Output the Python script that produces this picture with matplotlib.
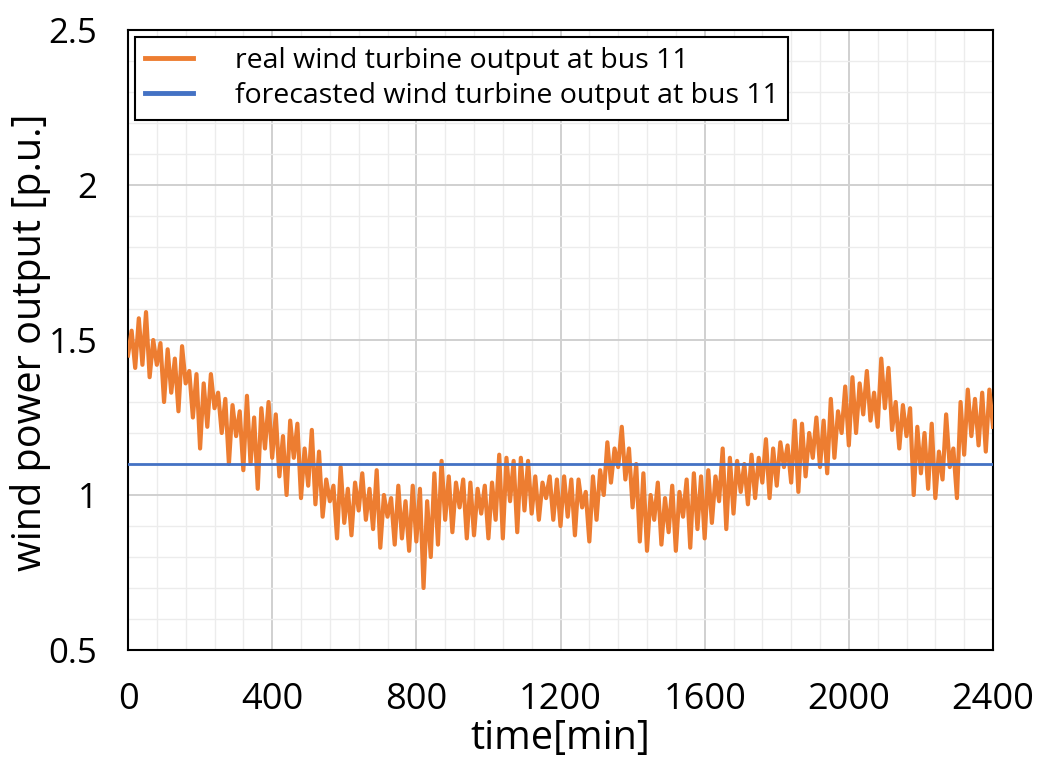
import matplotlib
matplotlib.use("Agg")
import matplotlib.pyplot as plt
from matplotlib.ticker import MultipleLocator

plt.rcParams['font.family'] = ['Open Sans', 'DejaVu Sans']

# time axis [min], 10-min steps
time_min = list(range(0, 2401, 10))

real_output = [
    # 0-390
    1.45, 1.53, 1.41, 1.57, 1.42, 1.59, 1.38, 1.50, 1.42, 1.49,
    1.30, 1.47, 1.33, 1.44, 1.27, 1.48, 1.36, 1.40, 1.25, 1.39,
    1.15, 1.36, 1.22, 1.39, 1.28, 1.33, 1.20, 1.31, 1.10, 1.29,
    1.19, 1.27, 1.08, 1.32, 1.10, 1.25, 1.02, 1.28, 1.15, 1.30,
    # 400-790
    1.12, 1.26, 1.06, 1.19, 1.00, 1.24, 1.12, 1.23, 0.99, 1.15,
    1.03, 1.21, 0.97, 1.14, 0.93, 1.05, 0.98, 1.03, 0.86, 1.09,
    0.91, 1.02, 0.87, 1.04, 0.95, 1.07, 0.92, 1.02, 0.89, 1.08,
    0.83, 1.00, 0.93, 0.99, 0.84, 1.03, 0.86, 0.98, 0.82, 1.03,
    # 800-1190
    0.85, 1.02, 0.70, 0.98, 0.80, 1.07, 0.84, 1.11, 0.92, 1.06,
    0.88, 1.04, 0.96, 1.05, 0.86, 1.04, 0.87, 1.02, 0.94, 1.03,
    0.86, 1.04, 0.92, 1.13, 0.86, 1.12, 0.98, 1.11, 0.88, 1.12,
    0.95, 1.11, 0.94, 1.06, 0.92, 1.04, 0.99, 1.06, 0.92, 1.05,
    # 1200-1590
    0.90, 1.06, 0.93, 1.05, 0.87, 1.05, 0.96, 1.01, 0.85, 1.06,
    0.92, 1.08, 1.00, 1.17, 1.04, 1.15, 1.09, 1.22, 1.05, 1.15,
    0.96, 1.10, 0.85, 1.07, 0.82, 1.00, 0.92, 1.04, 0.84, 0.99,
    0.88, 1.03, 0.82, 1.01, 0.93, 1.05, 0.83, 1.07, 0.89, 1.06,
    # 1600-1990
    0.86, 1.08, 0.91, 1.06, 0.98, 1.15, 0.89, 1.12, 0.94, 1.11,
    1.01, 1.10, 0.97, 1.13, 0.99, 1.12, 1.04, 1.18, 0.99, 1.15,
    1.03, 1.17, 1.09, 1.16, 1.04, 1.24, 1.01, 1.23, 1.06, 1.20,
    1.12, 1.25, 1.09, 1.24, 1.07, 1.31, 1.12, 1.27, 1.20, 1.35,
    # 2000-2400
    1.16, 1.38, 1.20, 1.36, 1.26, 1.40, 1.24, 1.33, 1.22, 1.44,
    1.28, 1.41, 1.21, 1.30, 1.15, 1.29, 1.19, 1.28, 1.00, 1.22,
    1.07, 1.20, 1.02, 1.23, 0.99, 1.14, 1.05, 1.26, 1.09, 1.15,
    0.99, 1.30, 1.13, 1.34, 1.19, 1.31, 1.16, 1.33, 1.14, 1.34,
    1.22,
]

forecast_value = 1.1
forecast_output = [forecast_value] * len(time_min)

x_ticks = [0, 400, 800, 1200, 1600, 2000, 2400]
y_ticks = [0.5, 1.0, 1.5, 2.0, 2.5]
y_tick_labels = ['0.5', '1', '1.5', '2', '2.5']

label_real = 'real wind turbine output at bus 11'
label_fc = 'forecasted wind turbine output at bus 11'

fig = plt.figure(figsize=(10.38, 7.58), dpi=100)
ax = fig.add_axes([128/1038, 1 - 650/758, (993-128)/1038, (650-30)/758])

ax.plot(time_min, real_output, color='#ED7D31', lw=3.0, label=label_real, zorder=3,
        solid_joinstyle='round')
ax.plot(time_min, forecast_output, color='#4472C4', lw=2.0, label=label_fc, zorder=4)

ax.set_xlim(0, 2400)
ax.set_ylim(0.5, 2.5)
ax.set_xticks(x_ticks)
ax.set_yticks(y_ticks)
ax.set_yticklabels(y_tick_labels)
ax.xaxis.set_minor_locator(MultipleLocator(80))
ax.yaxis.set_minor_locator(MultipleLocator(0.1))
ax.grid(which='major', color='#d0d0d0', lw=1.4, zorder=0)
ax.grid(which='minor', color='#ececec', lw=1.0, zorder=0)
ax.set_axisbelow(True)
ax.tick_params(which='both', length=0)
ax.tick_params(axis='x', labelsize=26, pad=23)
ax.tick_params(axis='y', labelsize=25, pad=22)
for s in ax.spines.values():
    s.set_color('black')
    s.set_linewidth(1.5)

ax.set_xlabel('time[min]', fontsize=28.5, va='center')
ax.xaxis.set_label_coords(0.5, -0.143)
ax.set_ylabel('wind power output [p.u.]', fontsize=28.5, va='center')
ax.yaxis.set_label_coords(-0.113, 0.497)

leg = ax.legend(loc='upper left', bbox_to_anchor=(7/865, 1 - 7/620), fontsize=20.5,
                frameon=True, fancybox=False, edgecolor='black', framealpha=1,
                handlelength=1.7, handletextpad=1.45, borderpad=0.35, labelspacing=0.25,
                borderaxespad=0)
leg.get_frame().set_linewidth(1.5)
for h in leg.get_lines():
    h.set_linewidth(3.5)

fig.savefig('out.png', dpi=100)
